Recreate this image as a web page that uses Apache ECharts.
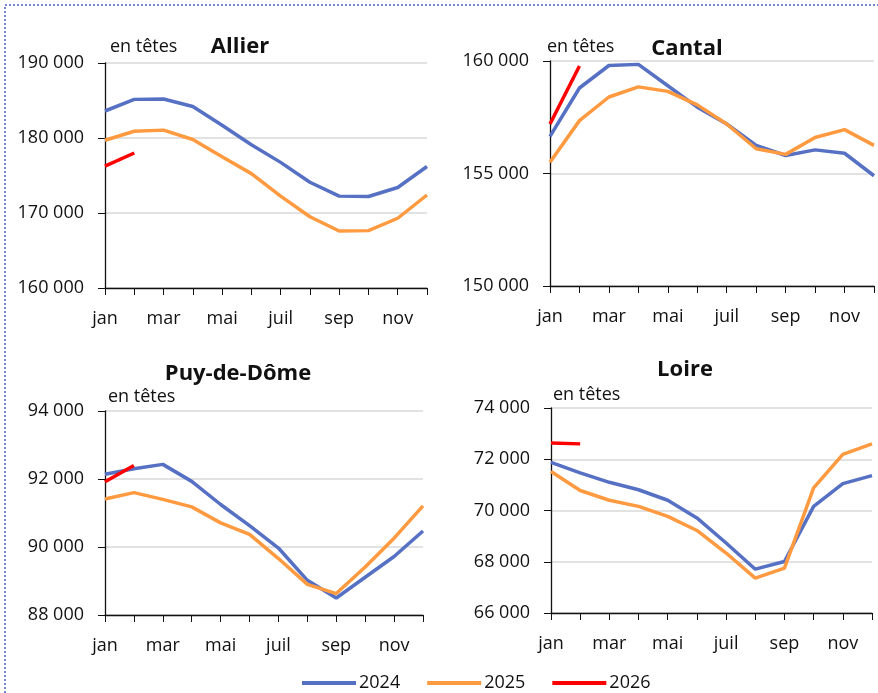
<!DOCTYPE html>
<html><head><meta charset="utf-8">
<script src="https://cdn.jsdelivr.net/npm/echarts@6/dist/echarts.min.js"></script>
<style>html,body{margin:0;padding:0;background:#fff}#c{width:878px;height:693px}</style>
</head><body><div id="c"></div>
<script>
const months = ['jan','fév','mar','avr','mai','juin','juil','août','sep','oct','nov','déc'];
const years = ['2024','2025','2026'];
const colors = ['#5670C3','#FF9A40','#FF0000'];

const allier2024 = [183600,185150,185200,184200,181700,179100,176750,174100,172250,172200,173400,176200];
const allier2025 = [179700,180900,181050,179800,177500,175250,172250,169500,167600,167650,169300,172400];
const allier2026 = [176250,178000];

const cantal2024 = [156650,158800,159800,159850,158900,157950,157200,156250,155800,156050,155900,154900];
const cantal2025 = [155500,157350,158400,158850,158650,158050,157200,156100,155850,156600,156950,156250];
const cantal2026 = [157200,159780];

const puy2024 = [92140,92300,92430,91930,91250,90630,89970,89020,88500,89110,89720,90470];
const puy2025 = [91410,91600,91400,91180,90710,90370,89660,88900,88630,89410,90260,91210];
const puy2026 = [91920,92400];

const loire2024 = [71880,71470,71100,70810,70400,69710,68730,67710,68010,70160,71050,71360];
const loire2025 = [71520,70780,70400,70160,69770,69220,68340,67360,67750,70880,72190,72600];
const loire2026 = [72630,72600];

const panelNames = ['Allier','Cantal','Puy-de-Dôme','Loire'];
const panelData = [
  [allier2024, allier2025, allier2026],
  [cantal2024, cantal2025, cantal2026],
  [puy2024, puy2025, puy2026],
  [loire2024, loire2025, loire2026]
];
const yMin = [160000,150000,88000,66000];
const yMax = [190000,160000,94000,74000];
const yInt = [10000,5000,2000,2000];

const grids = [
  {left:105, top:63, width:322, height:225},
  {left:550, top:61, width:324, height:225},
  {left:105, top:411, width:318, height:204},
  {left:551, top:408, width:321, height:205}
];
const titlePos = [[235,31],[682,33],[233,358],[680,354]];
const unitPos = [[110,38],[547,38],[108,388],[553,386]];

const FONT = 'Open Sans';
const fmt = v => String(v).replace(/\B(?=(\d{3})+(?!\d))/g, ' ');

const option = {
  animation:false,
  backgroundColor:'#fff',
  textStyle:{fontFamily:FONT},
  grid: grids,
  title: panelNames.map((n,i)=>({
    text:n, left:titlePos[i][0], top:titlePos[i][1], textAlign:'center',
    textStyle:{fontFamily:FONT, fontSize:22, fontWeight:'bold', color:'#111'}
  })),
  legend:{
    data:years, left:297, top:669, itemWidth:54, itemHeight:4, itemGap:27,
    icon:'rect',
    textStyle:{fontFamily:FONT, fontSize:18, color:'#111', padding:[0,0,0,-2]}
  },
  xAxis: grids.map((g,i)=>({
    type:'category', gridIndex:i, data:months, boundaryGap:false,
    axisLine:{lineStyle:{color:'#111', width:1.3}},
    axisTick:{show:true, interval:0, length:7, lineStyle:{color:'#111'}},
    axisLabel:{interval:1, color:'#111', fontSize:18, fontFamily:FONT, margin:22},
    splitLine:{show:false}
  })),
  yAxis: grids.map((g,i)=>({
    type:'value', gridIndex:i, min:yMin[i], max:yMax[i], interval:yInt[i],
    axisLine:{show:true, lineStyle:{color:'#111', width:1.3}},
    axisTick:{show:true, length:7, lineStyle:{color:'#111'}},
    axisLabel:{color:'#111', fontSize:18, fontFamily:FONT, margin:21, formatter:fmt},
    splitLine:{show:true, lineStyle:{color:'#D9D9D9', width:1.5}}
  })),
  series: [],
  graphic: [
    {type:'rect', shape:{x:5, y:5, width:900, height:800}, silent:true,
     style:{fill:'none', stroke:'#4A62C4', lineWidth:1.5, lineDash:[2,2]}}
  ].concat(panelNames.map((n,i)=>({
    type:'text', left:unitPos[i][0], top:unitPos[i][1],
    style:{text:'en têtes', font:'18px "Open Sans"', fill:'#111'}
  })))
};

panelData.forEach((sets,i)=>{
  sets.forEach((d,k)=>{
    option.series.push({
      name:years[k], type:'line', xAxisIndex:i, yAxisIndex:i, data:d,
      symbol:'none', showSymbol:false, z: 3+k,
      lineStyle:{color:colors[k], width:3.5},
      itemStyle:{color:colors[k]}
    });
  });
});

const chart = echarts.init(document.getElementById('c'), null, {renderer:'canvas'});
chart.setOption(option);
</script>
</body></html>
